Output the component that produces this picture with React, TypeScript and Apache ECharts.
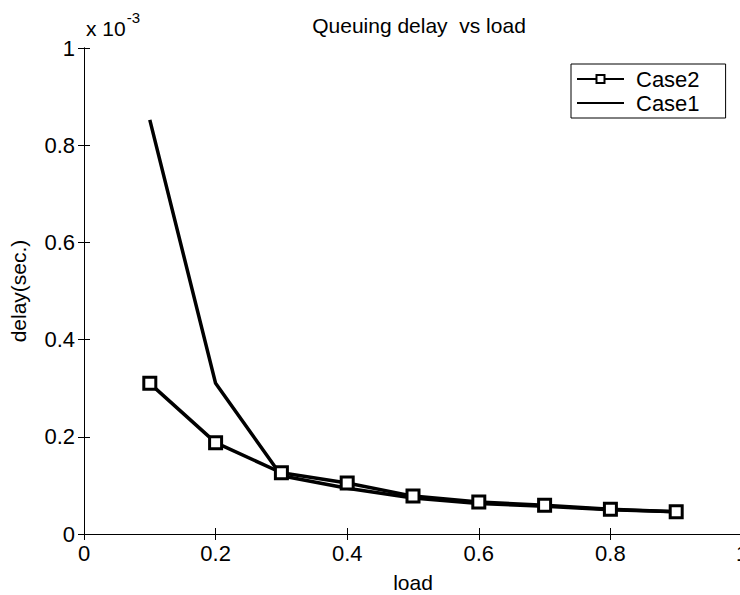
import React, { useEffect, useRef } from "react";
import * as echarts from "echarts";

const loads = [0.1, 0.2, 0.3, 0.4, 0.5, 0.6, 0.7, 0.8, 0.9];
// delay values in units of 1e-3 s
const case2 = [0.31, 0.188, 0.126, 0.105, 0.078, 0.066, 0.059, 0.051, 0.046];
const case1 = [0.852, 0.31, 0.12, 0.094, 0.074, 0.063, 0.057, 0.05, 0.046];
const xTicks = [0, 0.2, 0.4, 0.6, 0.8, 1];
const yTicks = [0, 0.2, 0.4, 0.6, 0.8, 1];

const FONT = "Liberation Sans";

export default function App() {
  const ref = useRef<HTMLDivElement>(null);
  useEffect(() => {
    if (!ref.current) return;
    const chart = echarts.init(ref.current, null, { renderer: "svg" });
    const fmt = (v: number) => String(parseFloat(v.toFixed(1)));
    const axisCommon = {
      min: 0,
      max: 1,
      interval: 0.2,
      axisLine: { show: true, lineStyle: { color: "#000", width: 1 } },
      axisTick: { show: true, inside: true, length: 6, lineStyle: { color: "#000" } },
      splitLine: { show: false },
    };
    chart.setOption({
      animation: false,
      backgroundColor: "#fff",
      textStyle: { fontFamily: FONT },
      title: {
        text: "Queuing delay  vs load",
        left: 414,
        textAlign: "center",
        top: 10,
        textStyle: { fontFamily: FONT, fontSize: 21, fontWeight: "normal", color: "#000" },
      },
      grid: { left: 84, top: 48, width: 658, height: 486, containLabel: false, outerBoundsMode: "none" },
      legend: {
        data: [
          { name: "Case2" },
          { name: "Case1", itemStyle: { opacity: 0 } },
        ],
        orient: "vertical",
        left: 571,
        top: 64,
        padding: [4, 26, 4, 5],
        itemGap: 2,
        itemWidth: 47,
        itemHeight: 10,
        borderColor: "#000",
        borderWidth: 1,
        backgroundColor: "#fff",
        textStyle: { fontFamily: FONT, fontSize: 22, color: "#000", padding: [0, 0, 0, 7] },
      },
      xAxis: [
        {
          type: "value",
          position: "bottom",
          ...axisCommon,
          name: "load",
          nameLocation: "middle",
          nameGap: 38,
          nameTextStyle: { fontFamily: FONT, fontSize: 21, color: "#000" },
          axisLabel: {
            show: true,
            margin: 8,
            fontFamily: FONT,
            fontSize: 22,
            color: "#000",
            formatter: (v: number) => (xTicks.some((t) => Math.abs(t - v) < 1e-9) ? fmt(v) : ""),
          },
        },
        {
          type: "value",
          position: "top",
          ...axisCommon,
          axisLabel: { show: false },
        },
      ],
      yAxis: [
        {
          type: "value",
          position: "left",
          ...axisCommon,
          name: "delay(sec.)",
          nameLocation: "middle",
          nameRotate: 90,
          nameGap: 55,
          nameTextStyle: { fontFamily: FONT, fontSize: 21, color: "#000" },
          axisLabel: {
            show: true,
            margin: 9,
            fontFamily: FONT,
            fontSize: 22,
            color: "#000",
            formatter: (v: number) => (yTicks.some((t) => Math.abs(t - v) < 1e-9) ? fmt(v) : ""),
          },
        },
        {
          type: "value",
          position: "right",
          ...axisCommon,
          axisLabel: { show: false },
        },
      ],
      graphic: [
        {
          type: "text",
          left: 86,
          top: 10,
          style: {
            text: "{b|x 10}{s|-3}",
            rich: {
              b: { fontFamily: FONT, fontSize: 21, fill: "#000", padding: [12, 0, 0, 0] },
              s: { fontFamily: FONT, fontSize: 15, fill: "#000", padding: [0, 0, 10, 1] },
            },
          },
        },
      ],
      series: [
        {
          name: "Case2",
          type: "line",
          data: loads.map((x, i) => [x, case2[i]]),
          symbol: "rect",
          symbolSize: 12,
          showAllSymbol: true,
          lineStyle: { color: "#000", width: 3.5 },
          itemStyle: { color: "#fff", borderColor: "#000", borderWidth: 3 },
          z: 3,
        },
        {
          name: "Case1",
          type: "line",
          data: loads.map((x, i) => [x, case1[i]]),
          symbol: "none",
          lineStyle: { color: "#000", width: 3.5 },
          itemStyle: { color: "#000" },
          z: 2,
        },
      ],
    });
    return () => chart.dispose();
  }, []);
  return <div ref={ref} style={{ width: 740, height: 595, position: "absolute", left: 0, top: 0 }} />;
}
